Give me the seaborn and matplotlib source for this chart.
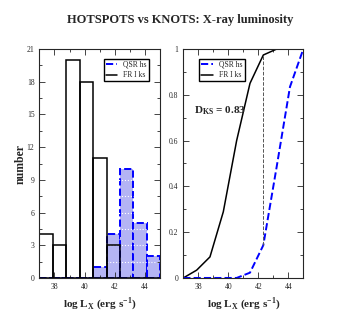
"""
Hotspots vs knots: X-ray luminosity histogram and cumulative distributions.
"""

import numpy as np
import pandas as pd
import matplotlib
matplotlib.use('Agg')
import matplotlib.pyplot as plt
from matplotlib.lines import Line2D
from matplotlib.ticker import MultipleLocator
import seaborn as sns

# bin edges (log L_X), 9 bins from 37 to 45
bin_edges = list(np.linspace(37, 45, 10))
bin_centers = [0.5 * (a + b) for a, b in zip(bin_edges[:-1], bin_edges[1:])]

qsr_counts = [0, 0, 0, 0, 1, 4, 10, 5, 2]
fr1_counts = [4, 3, 20, 18, 11, 3, 0, 0, 0]

# cumulative fractions read at the bin edges
qsr_cdf = [0, 0, 0, 0, 0, 0.023, 0.143, 0.485, 0.835, 1.0]
fr1_cdf = [0, 0.034, 0.092, 0.289, 0.60, 0.85, 0.974, 1.0, 1.0, 1.0]
ks_index = 6
d_ks = 0.83

hist_df = pd.DataFrame({'logLx': bin_centers, 'qsr': qsr_counts, 'fr1': fr1_counts})
cdf_df = pd.DataFrame({'logLx': bin_edges, 'qsr': qsr_cdf, 'fr1': fr1_cdf})

sns.set_style('ticks')
plt.rcParams['font.family'] = ['Liberation Serif', 'DejaVu Serif']
plt.rcParams['mathtext.fontset'] = 'custom'
plt.rcParams['mathtext.rm'] = 'Liberation Serif'
plt.rcParams['mathtext.bf'] = 'Liberation Serif:bold'

fig = plt.figure(figsize=(3.43, 3.27), dpi=100)
ax1 = fig.add_axes([0.1146, 0.150, 0.3527, 0.700])
ax2 = fig.add_axes([0.5344, 0.150, 0.3499, 0.700])

blue_fill = '#b4b4f4'

# ---- histogram
sns.histplot(data=hist_df, x='logLx', weights='qsr', bins=bin_edges, ax=ax1,
             color=blue_fill, alpha=1, edgecolor='blue', linestyle='--',
             linewidth=1.4, zorder=1)
sns.histplot(data=hist_df, x='logLx', weights='fr1', bins=bin_edges, ax=ax1,
             fill=False, color='black', edgecolor='black', linewidth=1.1,
             zorder=3)
ax1.set_xlim(37, 45)
ax1.set_ylim(0, 21)
ax1.yaxis.set_major_locator(MultipleLocator(3))
ax1.yaxis.set_minor_locator(MultipleLocator(1.5))
ax1.xaxis.set_major_locator(MultipleLocator(2))
ax1.xaxis.set_minor_locator(MultipleLocator(1))
ax1.set_axisbelow(False)
ax1.grid(which='both', axis='y', color='white', linestyle=':', linewidth=0.8)
ax1.set_ylabel('number', fontsize=8.5, fontweight='bold', labelpad=0)

leg_handles = [
    Line2D([], [], color='blue', linestyle='--', linewidth=1.4, label='QSR hs'),
    Line2D([], [], color='black', linewidth=1.1, label='FR I ks'),
]
ax1.legend(handles=leg_handles, loc='upper right', fontsize=5.5,
           frameon=True, fancybox=False, edgecolor='black', framealpha=1,
           handlelength=1.5, borderpad=0.3, labelspacing=0.3,
           bbox_to_anchor=(0.94, 0.975))

# ---- cumulative distributions
sns.lineplot(data=cdf_df, x='logLx', y='fr1', ax=ax2, color='black', linewidth=1.1)
sns.lineplot(data=cdf_df, x='logLx', y='qsr', ax=ax2, color='blue', linewidth=1.4,
             linestyle='--')
ax2.vlines(bin_edges[ks_index], qsr_cdf[ks_index], fr1_cdf[ks_index],
           colors='#555555', linestyles='--', linewidth=0.7)
ax2.set_xlim(37, 45)
ax2.set_ylim(0, 1)
ax2.yaxis.set_minor_locator(MultipleLocator(0.1))
ax2.xaxis.set_major_locator(MultipleLocator(2))
ax2.xaxis.set_minor_locator(MultipleLocator(1))
ax2.set_yticks(np.arange(0, 1.01, 0.2))
ax2.set_yticklabels(['0', '0.2', '0.4', '0.6', '0.8', '1'])
ax2.set_ylabel('')
ax2.text(37.7, 0.73, r'$\mathbf{D_{KS}}$' + f' = {d_ks:.2f}', fontsize=8,
         fontweight='bold', va='center')
ax2.legend(handles=leg_handles, loc='upper left', fontsize=5.5,
           frameon=True, fancybox=False, edgecolor='black', framealpha=1,
           handlelength=1.5, borderpad=0.3, labelspacing=0.3,
           bbox_to_anchor=(0.1, 0.975))

for ax in (ax1, ax2):
    ax.tick_params(which='both', direction='in', top=True, right=True,
                   labelsize=5.5, width=0.6)
    ax.tick_params(which='major', length=4)
    ax.tick_params(which='minor', length=2)
    for s in ax.spines.values():
        s.set_linewidth(0.8)
        s.set_zorder(5)
    ax.set_xlabel(r'log L$_\mathbf{X}$ (erg s$^\mathbf{-1}$)', fontsize=8,
                  fontweight='bold', labelpad=3)

fig.suptitle('HOTSPOTS vs KNOTS: X-ray luminosity', fontsize=9,
             fontweight='bold', x=0.525, y=0.957)

fig.savefig('out.png', dpi=100)
